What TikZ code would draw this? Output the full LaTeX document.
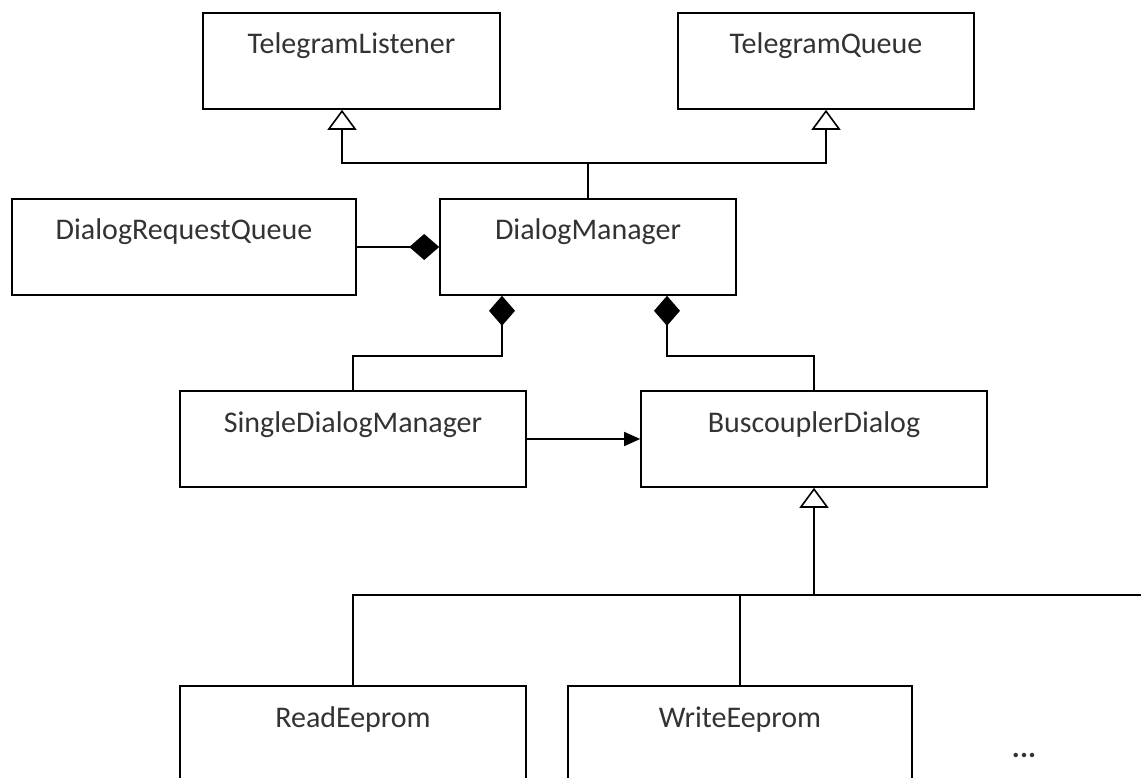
\documentclass[tikz,border=0pt]{standalone}
\usepackage{fontspec}
\setmainfont{Carlito}
\usetikzlibrary{arrows.meta}

\begin{document}
\begin{tikzpicture}[x=1pt, y=-1pt, line width=1.6pt,
    every node/.style={font=\fontsize{30}{36}\selectfont, text=black!80},
    cls/.style={draw=black, inner sep=0pt, text height=41pt, text depth=55pt, minimum width=#1},
    cls/.default=346pt,
    gen/.style={-{Triangle[open, length=20pt, width=29pt]}},
    comp/.style={-{Diamond[length=30pt, width=26pt]}},
    dep/.style={-{Triangle[length=16pt, width=14pt]}}]
    \useasboundingbox (0,0) rectangle (1141,778);

    \node[cls=297pt] (tl) at (351.5,61) {TelegramListener};
    \node[cls=296pt] (tq) at (826,61) {TelegramQueue};
    \node[cls=344pt] (drq) at (184,247) {DialogRequestQueue};
    \node[cls=296pt] (dm) at (588,247) {DialogManager};
    \node[cls] (sdm) at (353,439) {SingleDialogManager};
    \node[cls] (bd) at (814,439) {BuscouplerDialog};
    \node[cls] (re) at (353,734) {ReadEeprom};
    \node[cls=344pt] (we) at (740,734) {WriteEeprom};
    \node (more) at (1024,755) {\textbf{...}};

    \coordinate (jt) at (588,163);
    \coordinate (js) at (502,356);
    \coordinate (jb) at (667,356);
    \coordinate (jd) at (814,595);
    \coordinate (jend) at (1141,595);

    % generalization
    \draw (dm.north) -- (jt);
    \draw[gen] (jt) -| ([xshift=-9.5pt]tl.south);
    \draw[gen] (jt) -| (tq.south);

    % composition
    \draw[comp] (drq.east) -- (dm.west);
    \draw[comp] (sdm.north) |- (js) -- (js |- dm.south);
    \draw[comp] (bd.north) |- (jb) -- (jb |- dm.south);

    \draw[dep] (sdm.east) -- (bd.west);

    % dialogs
    \draw[gen] (jd) -- (bd.south);
    \draw (re.north) |- (jend);
    \draw (we.north) -- (we.north |- jd);
\end{tikzpicture}
\end{document}
